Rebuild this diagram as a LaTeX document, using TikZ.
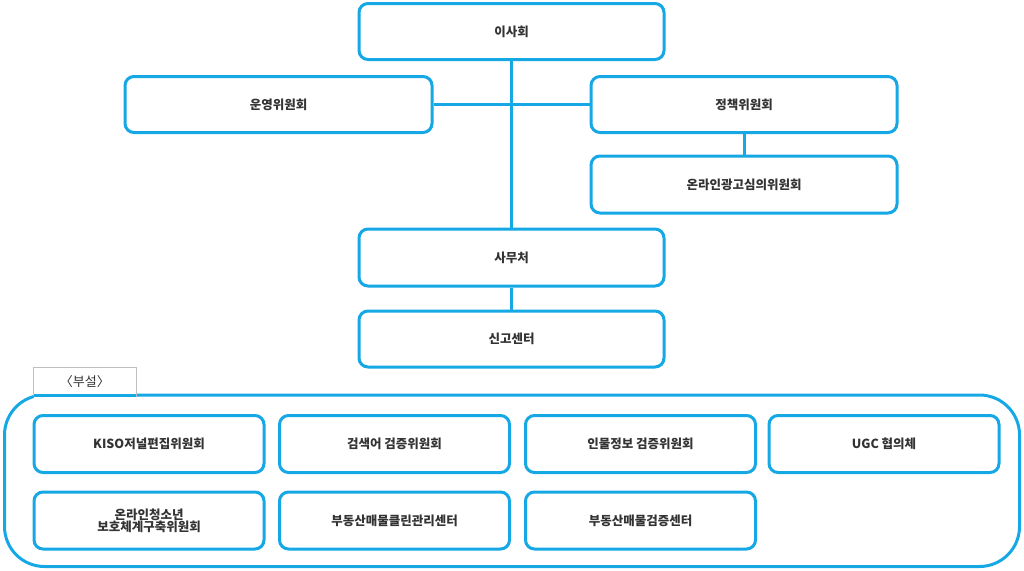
\documentclass[tikz,border=0pt]{standalone}
\usepackage{fontspec}
\setmainfont{Noto Sans CJK KR}
\definecolor{cy}{HTML}{16A8E4}
\definecolor{tx}{HTML}{333333}
\begin{document}
\begin{tikzpicture}[x=1pt,y=-1pt,
  bx/.style={draw=cy,line width=3pt,rounded corners=9pt,fill=white,text=tx,font=\fontsize{12.5}{14}\selectfont\bfseries,align=center,inner sep=0pt},
  ln/.style={draw=cy,line width=3pt}]
\useasboundingbox (0,0) rectangle (1024,570);
\node[bx,minimum width=305,minimum height=56] (isa) at (511.5,31.5) {이사회};
\node[bx,minimum width=307,minimum height=56] (un) at (278.5,104.5) {운영위원회};
\node[bx,minimum width=306,minimum height=56] (jc) at (744,104.5) {정책위원회};
\node[bx,minimum width=306,minimum height=57] (ol) at (744,184.5) {온라인광고심의위원회};
\node[bx,minimum width=305,minimum height=57] (sm) at (511.5,257.5) {사무처};
\node[bx,minimum width=305,minimum height=56] (sg) at (511.5,339) {신고센터};
\draw[ln] (un.east) -- (jc.west);
\draw[ln] (jc.south) -- (ol.north);
\draw[ln] (sm.south) -- (sg.north);
\draw[ln] (isa.south) -- (sm.north);
\draw[ln,draw=cy] (4.5,395) [rounded corners=40pt] rectangle (1019.5,566.5);
\node[draw=black!25,line width=0.6pt,fill=white,minimum width=103,minimum height=28,anchor=north west,inner sep=0pt,text=tx,font=\fontsize{13}{14}\selectfont] (tab) at (33,367) {〈부설〉};
\fill[white] (33.5,392) rectangle (135.5,397.5);
\draw[ln] (33.5,395) -- (135.5,395);
\foreach \n/\x/\y/\t in {k/149/444/KISO저널편집위원회, g/394.5/444/검색어 검증위원회, i/640.5/444/인물정보 검증위원회, u/884/444/UGC 협의체, c/149/520.5/{온라인청소년\\[-2pt]보호체계구축위원회}, b/394.5/520.5/부동산매물클린관리센터, m/640.5/520.5/부동산매물검증센터}
  \node[bx,minimum width=230,minimum height=57] (\n) at (\x,\y) {\t};
\end{tikzpicture}
\end{document}
